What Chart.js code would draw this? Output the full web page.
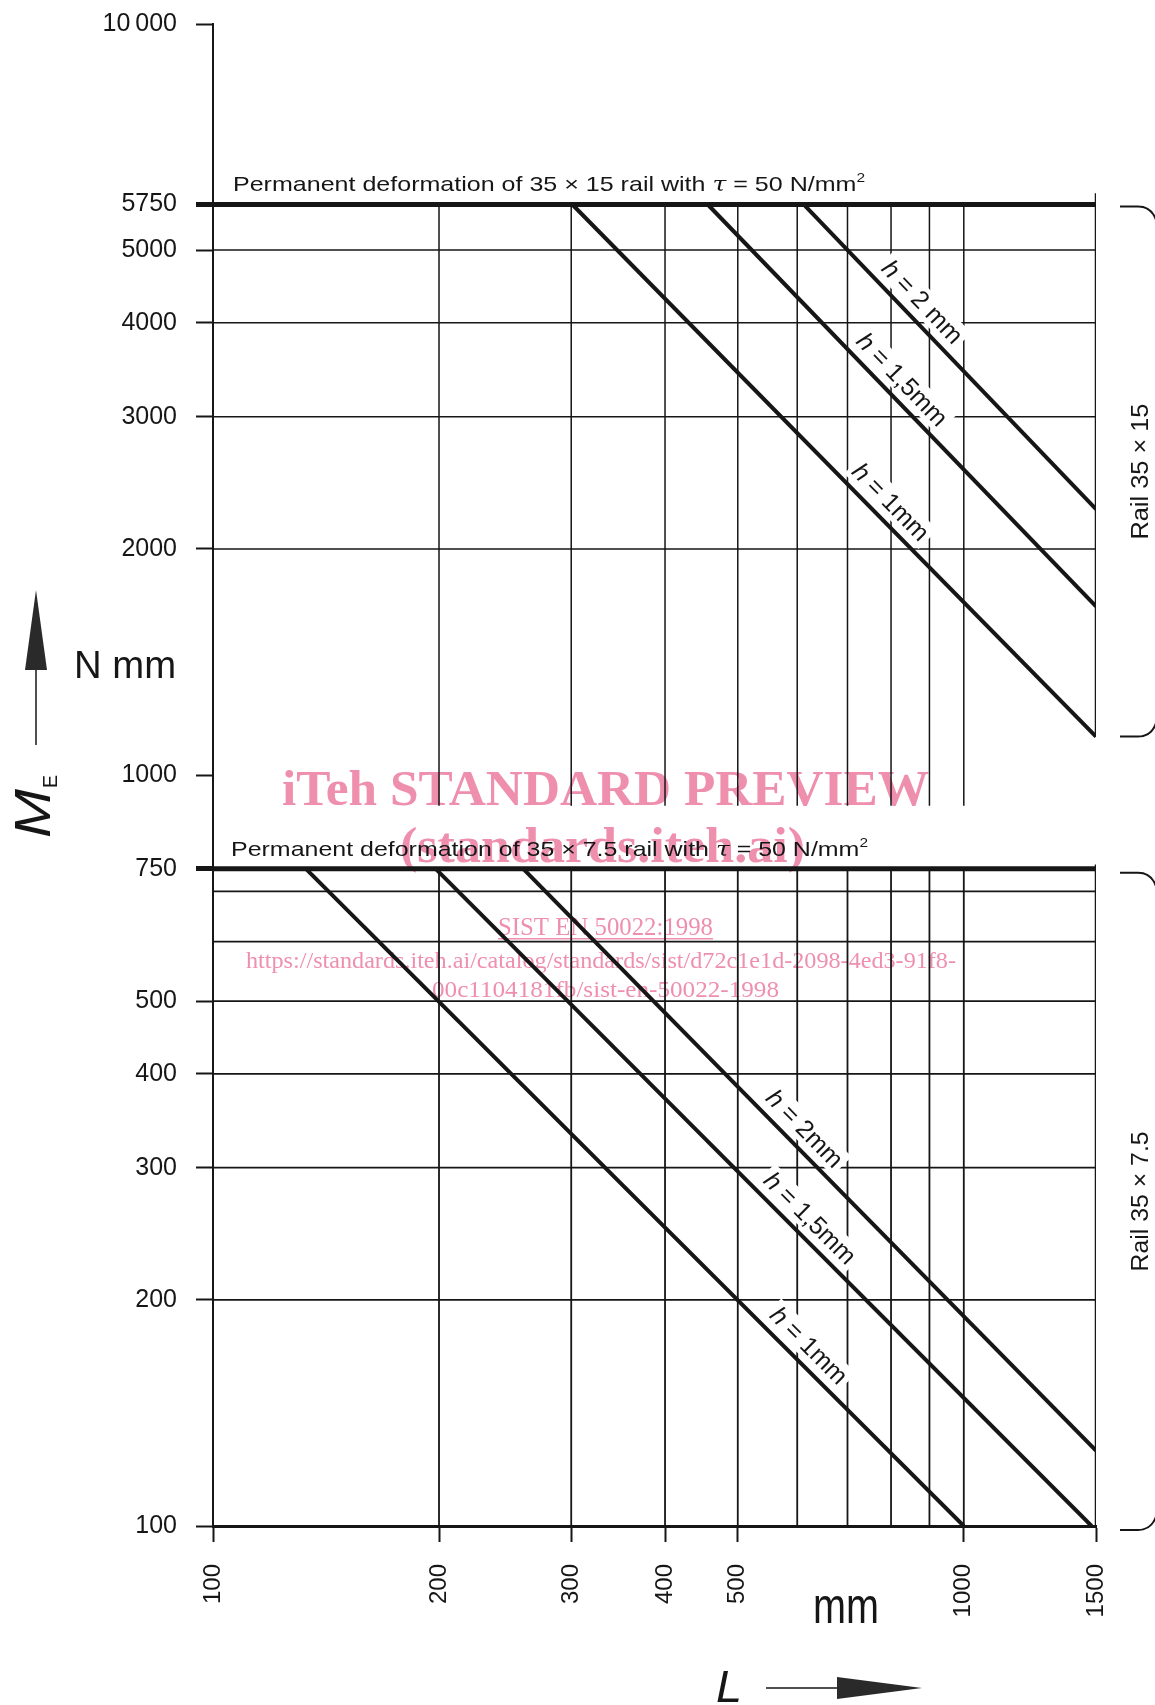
<!DOCTYPE html>
<html>
<head>
<meta charset="utf-8">
<script src="https://cdn.jsdelivr.net/npm/chart.js@4.4.1/dist/chart.umd.min.js"></script>
<style>
  body { margin: 0; background: #fff; }
  #wrap { width: 1155px; height: 1705px; position: relative; }
</style>
</head>
<body>
<div id="wrap"><canvas id="railchart"></canvas></div>
<script>
// tick labels of both log axes
const xTicks = [100, 200, 300, 400, 500, 1000, 1500];
const yTicks = [100, 200, 300, 400, 500, 750, 1000, 2000, 3000, 4000, 5000, 5750, 10000];

// curves h = 1, 1,5, 2 mm
const upperNames = ['1mm', '1,5mm', '2 mm'];
const lowerNames = ['1mm', '1,5mm', '2mm'];

// rail 35 x 15 : from the 5750 limit down to L = 1500
const upperL = [[301, 1500], [456, 1500], [612, 1500]];
const upperM = [[5750, 1125], [5750, 1677], [5750, 2260]];

// rail 35 x 7.5 : from the 750 limit down
const lowerL = [[133, 1000], [198, 1480], [259, 1500]];
const lowerM = [[750, 100], [750, 100], [750, 126]];

// grid of the two panels
const gridL = [200, 300, 400, 500, 600, 700, 800, 900, 1000];
const upperGridM = [5000, 4000, 3000, 2000];
const lowerGridM = [700, 600, 500, 400, 300, 200];
const limitM = [5750, 750];
const upperSpan = [5750, 910];   // vertical grid extent, upper panel
const lowerSpan = [750, 100];
const borderUpper = [5950, 1125]; // L = 1500 edge
const borderLower = [760, 100];

// where the h labels sit along each curve (L value)
const upperLabelAt = [768, 795, 846];
const lowerLabelAt = [598, 600, 590];

const INK = '#161616';

function seg(x0, y0, x1, y1, w, order) {
  return {
    data: [{x: x0, y: y0}, {x: x1, y: y1}],
    borderColor: INK, borderWidth: w, showLine: true,
    pointRadius: 0, fill: false, order: order
  };
}

const datasets = [];
// curves on top
for (let i = 0; i < 3; i++) {
  datasets.push(seg(upperL[i][0], upperM[i][0], upperL[i][1], upperM[i][1], 4, 0));
  datasets.push(seg(lowerL[i][0], lowerM[i][0], lowerL[i][1], lowerM[i][1], 4, 0));
}
// limits
limitM.forEach(m => datasets.push(seg(100, m, 1500, m, 5, 1)));
// grid
upperGridM.forEach(m => datasets.push(seg(100, m, 1500, m, 1.5, 2)));
lowerGridM.forEach(m => datasets.push(seg(100, m, 1500, m, 1.8, 2)));
gridL.forEach(l => {
  datasets.push(seg(l, upperSpan[0], l, upperSpan[1], 1.5, 2));
  datasets.push(seg(l, lowerSpan[0], l, lowerSpan[1], 1.8, 2));
});
datasets.push(seg(1500, borderUpper[0], 1500, borderUpper[1], 2.5, 2));
datasets.push(seg(1500, borderLower[0], 1500, borderLower[1], 2.5, 2));

// text squeezed to a width
function fitText(ctx, txt, x, y, w, font) {
  ctx.font = font;
  const m = ctx.measureText(txt).width;
  ctx.save();
  ctx.translate(x, y);
  ctx.scale(w / m, 1);
  ctx.textAlign = 'left';
  ctx.textBaseline = 'alphabetic';
  ctx.fillText(txt, 0, 0);
  ctx.restore();
}

function drawRuns(ctx, runs, x, y, w) {
  let total = 0;
  runs.forEach(r => { ctx.font = r[1]; total += ctx.measureText(r[0]).width; });
  ctx.save();
  ctx.translate(x, y);
  ctx.scale(w / total, 1);
  ctx.textAlign = 'left';
  ctx.textBaseline = 'alphabetic';
  let cx = 0;
  runs.forEach(r => {
    ctx.font = r[1];
    ctx.fillText(r[0], cx, r[2] || 0);
    cx += ctx.measureText(r[0]).width;
  });
  ctx.restore();
}

function deformRuns(rail) {
  const f = '21px "Liberation Sans", Arial, sans-serif';
  return [
    ['Permanent deformation of 35 \u00d7 ' + rail + ' rail with ', f],
    ['\u03c4', 'italic 21px "DejaVu Serif", serif'],
    [' = 50 N/mm', f],
    ['2', '13px "Liberation Sans", Arial, sans-serif', -9]
  ];
}

function curveLabel(ctx, xs, ys, Ls, Ms, atL, name) {
  const lg = Math.log10;
  const t = (lg(atL) - lg(Ls[0])) / (lg(Ls[1]) - lg(Ls[0]));
  const m = Math.pow(10, lg(Ms[0]) + t * (lg(Ms[1]) - lg(Ms[0])));
  const px = xs.getPixelForValue(atL), py = ys.getPixelForValue(m);
  const ang = Math.atan2(ys.getPixelForValue(Ms[1]) - ys.getPixelForValue(Ms[0]),
                         xs.getPixelForValue(Ls[1]) - xs.getPixelForValue(Ls[0]));
  const fi = 'italic 25px "Liberation Sans", Arial, sans-serif';
  const fn = '25px "Liberation Sans", Arial, sans-serif';
  ctx.font = fi; const wh = ctx.measureText('h').width;
  ctx.font = fn; const rest = ' = ' + name; const wr = ctx.measureText(rest).width;
  const w = wh + wr;
  ctx.save();
  ctx.translate(px, py);
  ctx.rotate(ang);
  ctx.fillStyle = '#fff';
  ctx.fillRect(-w / 2 - 4, -32, w + 8, 27);
  ctx.fillStyle = INK;
  ctx.textBaseline = 'alphabetic';
  ctx.textAlign = 'left';
  ctx.font = fi; ctx.fillText('h', -w / 2, -10);
  ctx.font = fn; ctx.fillText(rest, -w / 2 + wh, -10);
  ctx.restore();
}

const drawing = {
  id: 'drawing',
  beforeDatasetsDraw(chart) {
    // watermark of the scan
    const ctx = chart.ctx;
    ctx.save();
    ctx.fillStyle = '#ef8fae';
    fitText(ctx, 'iTeh STANDARD PREVIEW', 282, 805, 647, 'bold 50px "Liberation Serif", serif');
    fitText(ctx, '(standards.iteh.ai)', 400, 862, 405, 'bold 50px "Liberation Serif", serif');
    fitText(ctx, 'SIST EN 50022:1998', 498, 935, 215, '25px "Liberation Serif", serif');
    ctx.fillRect(498, 938, 215, 1.5);
    fitText(ctx, 'https://standards.iteh.ai/catalog/standards/sist/d72c1e1d-2098-4ed3-91f8-',
            246, 968, 710, '24px "Liberation Serif", serif');
    fitText(ctx, '00c1104181fb/sist-en-50022-1998', 432, 997, 347, '24px "Liberation Serif", serif');
    ctx.restore();
  },
  afterDraw(chart) {
    const ctx = chart.ctx;
    const xs = chart.scales.x, ys = chart.scales.y;
    ctx.save();
    ctx.fillStyle = INK;
    ctx.strokeStyle = INK;

    drawRuns(ctx, deformRuns('15'), 233, 191, 632);
    drawRuns(ctx, deformRuns('7.5'), 231, 856, 637);

    for (let i = 0; i < 3; i++) {
      curveLabel(ctx, xs, ys, upperL[i], upperM[i], upperLabelAt[i], upperNames[i]);
      curveLabel(ctx, xs, ys, lowerL[i], lowerM[i], lowerLabelAt[i], lowerNames[i]);
    }

    // brackets on the right
    const br = [[ys.getPixelForValue(5750) + 2, ys.getPixelForValue(1125)],
                [ys.getPixelForValue(750) + 4, ys.getPixelForValue(100) + 4]];
    ctx.lineWidth = 2;
    br.forEach(b => {
      ctx.beginPath();
      ctx.moveTo(1120, b[0]); ctx.lineTo(1138, b[0]);
      ctx.quadraticCurveTo(1155, b[0], 1158, b[0] + 22);
      ctx.moveTo(1120, b[1]); ctx.lineTo(1138, b[1]);
      ctx.quadraticCurveTo(1155, b[1], 1158, b[1] - 22);
      ctx.stroke();
    });
    const rails = [['Rail 35 \u00d7 15', 136], ['Rail 35 \u00d7 7.5', 140]];
    rails.forEach((r, i) => {
      const cy = (br[i][0] + br[i][1]) / 2;
      ctx.save();
      ctx.translate(1148, cy + r[1] / 2);
      ctx.rotate(-Math.PI / 2);
      fitText(ctx, r[0], 0, 0, r[1], '23px "Liberation Sans", Arial, sans-serif');
      ctx.restore();
    });

    // y axis title with arrow
    fitText(ctx, 'N mm', 74, 678, 102, '39px "Liberation Sans", Arial, sans-serif');
    ctx.save();
    ctx.translate(50, 838);
    ctx.rotate(-Math.PI / 2);
    fitText(ctx, 'M', 0, 0, 49, 'italic 50px "Liberation Sans", Arial, sans-serif');
    fitText(ctx, 'E', 50, 7, 13, '20px "Liberation Sans", Arial, sans-serif');
    ctx.restore();
    ctx.lineWidth = 1.5;
    ctx.beginPath(); ctx.moveTo(36, 745); ctx.lineTo(36, 668); ctx.stroke();
    ctx.fillStyle = '#2a2a2a';
    ctx.beginPath(); ctx.moveTo(36, 590); ctx.lineTo(47, 670); ctx.lineTo(25, 670); ctx.closePath(); ctx.fill();

    // x axis title with arrow
    ctx.fillStyle = INK;
    fitText(ctx, 'mm', 813, 1623, 66, '50px "Liberation Sans", Arial, sans-serif');
    fitText(ctx, 'L', 716, 1702, 26, 'italic 44px "Liberation Sans", Arial, sans-serif');
    ctx.beginPath(); ctx.moveTo(766, 1688); ctx.lineTo(840, 1688); ctx.stroke();
    ctx.fillStyle = '#2a2a2a';
    ctx.beginPath(); ctx.moveTo(837, 1677); ctx.lineTo(922, 1688); ctx.lineTo(837, 1699); ctx.closePath(); ctx.fill();
    ctx.restore();
  }
};

// no extra room for overhanging tick labels, the layout padding is set by hand
function noOverhang(s) {
  s.paddingTop = 0; s.paddingBottom = 0; s.paddingLeft = 0; s.paddingRight = 0;
}

const railchart = document.getElementById('railchart').getContext('2d');

const chart = new Chart(railchart, {
  type: 'scatter',
  data: { datasets: datasets },
  options: {
    responsive: true,
    maintainAspectRatio: false,
    animation: false,
    events: [],
    layout: { padding: { top: 24, right: 59, bottom: 0, left: 0 } },
    plugins: { legend: { display: false }, tooltip: { enabled: false } },
    scales: {
      x: {
        type: 'logarithmic',
        min: 100,
        max: 1500,
        afterBuildTicks: s => { s.ticks = xTicks.map(v => ({ value: v })); },
        afterFit: s => { s.height = 179; noOverhang(s); },
        ticks: {
          autoSkip: false, minRotation: 90, maxRotation: 90, padding: 22,
          color: INK, font: { family: '"Liberation Sans", Arial, sans-serif', size: 24 },
          callback: v => String(v)
        },
        grid: { drawOnChartArea: false, tickLength: 16, tickColor: INK, tickWidth: 2 },
        border: { color: INK, width: 3 }
      },
      y: {
        type: 'logarithmic',
        min: 100,
        max: 10000,
        afterBuildTicks: s => { s.ticks = yTicks.map(v => ({ value: v })); },
        afterFit: s => { s.width = 213; noOverhang(s); },
        ticks: {
          autoSkip: false, padding: 19,
          color: INK, font: { family: '"Liberation Sans", Arial, sans-serif', size: 25 },
          callback: v => v === 10000 ? '10\u2009000' : String(v)
        },
        grid: {
          drawOnChartArea: false, tickLength: 17, tickColor: INK,
          tickWidth: c => (c.tick && limitM.includes(c.tick.value)) ? 5 : 2
        },
        border: { color: INK, width: 2 }
      }
    }
  },
  plugins: [drawing]
});
</script>
</body>
</html>
